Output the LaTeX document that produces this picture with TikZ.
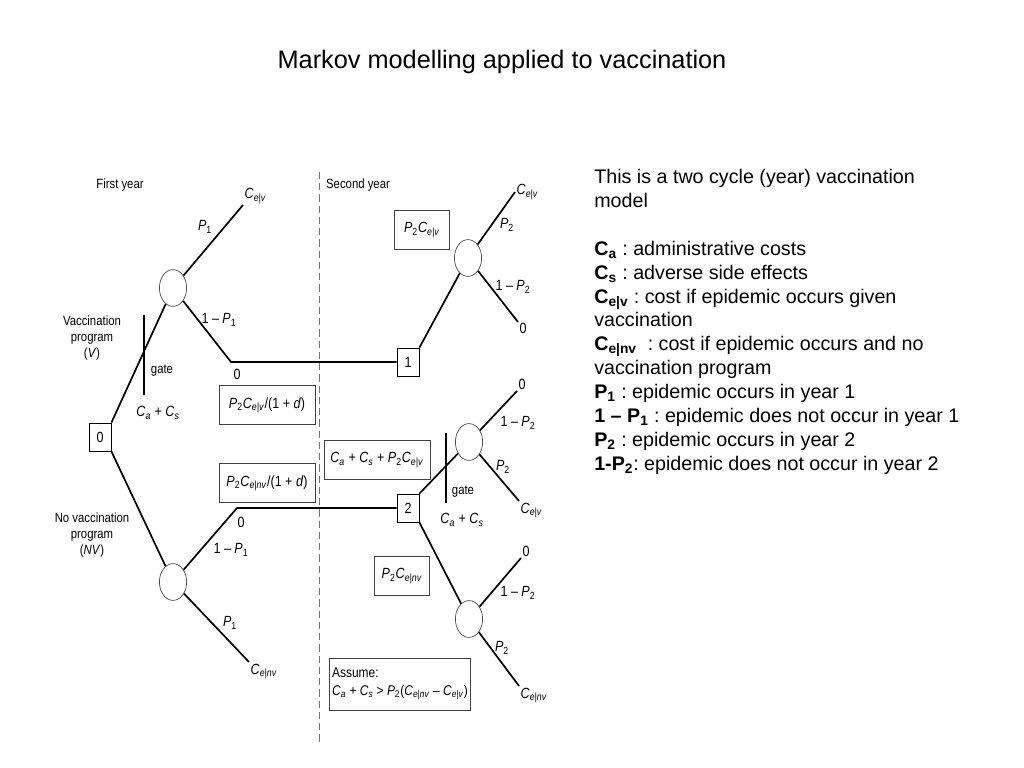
\documentclass[tikz,border=0pt]{standalone}
\usepackage{fontspec}
\setmainfont{Liberation Sans}
\newfontfamily\narrowsans[FakeStretch=0.85, Ligatures=TeX]{Liberation Sans}
\usetikzlibrary{shapes.geometric}
\newcommand{\Cx}[1]{\textit{C}\textsubscript{\textit{#1}}}
\newcommand{\Px}[1]{\textit{P}\textsubscript{#1}}
\newcommand{\lblfont}{\narrowsans\fontsize{9.5}{11.5}\selectfont}
\newcommand{\mlblfont}{\narrowsans\fontsize{10.5}{12.5}\selectfont}
\tikzset{
	treeline/.style={line width=1.2pt},
	yearline/.style={draw=black!55, line width=0.6pt, dash pattern=on 5pt off 3pt},
	decision/.style={draw, line width=0.6pt, minimum width=0.55cm, minimum height=0.7cm, inner sep=0pt, font=\mlblfont},
	chance/.style={ellipse, draw=black!70, line width=0.5pt, minimum width=0.68cm, minimum height=0.92cm, inner sep=0pt},
	valuebox/.style={draw=black!75, line width=0.6pt, minimum height=0.97cm, inner sep=2pt, font=\mlblfont},
	lbl/.style={inner sep=1pt, font=\lblfont},
	prob/.style={inner sep=1pt, font=\mlblfont},
}
\frenchspacing

\begin{document}
\begin{tikzpicture}[x=0.025cm, y=-0.025cm]
		\useasboundingbox (0,0) rectangle (1024,768);
		
		%%%%% TITLE %%%%%
		\node[font=\fontsize{18}{22}\selectfont] (ttl) at (502,62) {Markov modelling applied to vaccination};
		
		%%%%% YEARS %%%%%
		\node[lbl] (fy) at (120,185) {First year};
		\node[lbl] (sy) at (358,185) {Second year};
		\coordinate (ytop) at (319,172);
		\coordinate (ybot) at (319,745);
		\draw[yearline] (ytop) -- (ybot);
		
		%%%%% NODES %%%%%
		\node[decision] (s0) at (100,437) {0};
		\node[chance] (cV) at (173,288) {};
		\node[chance] (cNV) at (173,582) {};
		\node[decision] (s1) at (408,362) {1};
		\node[decision] (s2) at (408,508) {2};
		\node[chance] (cA) at (468,258) {};
		\node[chance] (cB) at (469,442) {};
		\node[chance] (cC) at (469,619) {};
		\coordinate (kV) at (231,362);
		\coordinate (kNV) at (237,508);
		
		%%%%% END VALUES %%%%%
		\node[prob, anchor=south west] (eV) at (243,205) {\Cx{e|v}};
		\node[prob, anchor=north west] (eNV) at (249,662) {\Cx{e|nv}};
		\node[prob, anchor=west] (eA1) at (515,192) {\Cx{e|v}};
		\node[prob, anchor=north west] (eA2) at (518,322) {0};
		\node[prob, anchor=south west] (eB1) at (517,391) {0};
		\node[prob, anchor=north west] (eB2) at (519,501) {\Cx{e|v}};
		\node[prob, anchor=south west] (eC1) at (521,558) {0};
		\node[prob, anchor=north west] (eC2) at (519,686) {\Cx{e|nv}};
		
		%%%%% BRANCHES %%%%%
		\draw[treeline] (s0.north east) -- (cV);
		\draw[treeline] (cV) -- (eV.south west);
		\draw[treeline] (cV) -- (kV) -- (s1.west);
		\draw[treeline] (s0.south east) -- (cNV);
		\draw[treeline] (cNV) -- (kNV) -- (s2.west);
		\draw[treeline] (cNV) -- (eNV.north west);
		\draw[treeline] (s1.north east) -- (cA);
		\draw[treeline] (cA) -- (eA1.west);
		\draw[treeline] (cA) -- (eA2.north west);
		\draw[treeline] (s2.north east) -- (cB);
		\draw[treeline] (cB) -- (eB1.south west);
		\draw[treeline] (cB) -- (eB2.north west);
		\draw[treeline] (s2.south east) -- (cC);
		\draw[treeline] (cC) -- (eC1.south west);
		\draw[treeline] (cC) -- (eC2.north west);
		
		%%%%% PROBABILITIES %%%%%
		\node[prob] (pV1) at (205,227) {\Px{1}};
		\node[prob] (pV2) at (219,320) {1 -- \Px{1}};
		\node[prob] (zV) at (237,374) {0};
		\node[prob] (pNV2) at (231,550) {1 -- \Px{1}};
		\node[prob] (zNV) at (241,522) {0};
		\node[prob] (pNV1) at (230,623) {\Px{1}};
		\node[prob] (pA1) at (507,225) {\Px{2}};
		\node[prob] (pA2) at (513,287) {1 -- \Px{2}};
		\node[prob] (pB2) at (518,423) {1 -- \Px{2}};
		\node[prob] (pB1) at (503,467) {\Px{2}};
		\node[prob] (pC2) at (518,593) {1 -- \Px{2}};
		\node[prob] (pC1) at (502,648) {\Px{2}};
		
		%%%%% GATES %%%%%
		\coordinate (gV1) at (144,315);
		\coordinate (gV2) at (144,395);
		\draw[treeline] (gV1) -- (gV2);
		\node[lbl] (gVt) at (162,371) {gate};
		\node[prob] (gVc) at (158,413) {\Cx{a} + \Cx{s}};
		\coordinate (gB1) at (446,433);
		\coordinate (gB2) at (446,503);
		\draw[treeline] (gB1) -- (gB2);
		\node[lbl] (gBt) at (463,492) {gate};
		\node[prob] (gBc) at (462,520) {\Cx{a} + \Cx{s}};
		
		%%%%% PROGRAMS %%%%%
		\node[lbl, align=center] (progV) at (92,338) {Vaccination\\program\\(\textit{V})};
		\node[lbl, align=center] (progNV) at (92,535) {No vaccination\\program\\(\textit{NV})};
		
		%%%%% VALUE BOXES %%%%%
		\node[valuebox, minimum width=2.4cm] (bV) at (267,405) {\Px{2}\Cx{e|v}/(1 + \textit{d})};
		\node[valuebox, minimum width=2.4cm] (bNV) at (267,483) {\Px{2}\Cx{e|nv}/(1 + \textit{d})};
		\node[valuebox, minimum width=1.375cm] (bA) at (422,230) {\Px{2}\Cx{e|v}};
		\node[valuebox, minimum width=2.65cm] (bB) at (377,460) {\Cx{a} + \Cx{s} + \Px{2}\Cx{e|v}};
		\node[valuebox, minimum width=1.375cm] (bC) at (402,576) {\Px{2}\Cx{e|nv}};
		\node[valuebox, align=left, minimum width=3.4cm, minimum height=1.3cm, font=\narrowsans\fontsize{10}{12.5}\selectfont] (assume) at (400,684) {Assume:\\\Cx{a} + \Cx{s} > \Px{2}(\Cx{e|nv} -- \Cx{e|v})};
		
		%%%%% LEGEND %%%%%
		\node[anchor=north west, align=left, inner sep=0pt, font=\fontsize{14}{17}\selectfont] (legend) at (594,169) {This is a two cycle (year) vaccination\\model\\[17pt]
			\textbf{C\textsubscript{a}} : administrative costs\\
			\textbf{C\textsubscript{s}} : adverse side effects\\
			\textbf{C\textsubscript{e|v}} : cost if epidemic occurs given\\vaccination\\
			\textbf{C\textsubscript{e|nv}} \ : cost if epidemic occurs and no\\vaccination program\\
			\textbf{P\textsubscript{1}} : epidemic occurs in year 1\\
			\textbf{1 -- P\textsubscript{1}} : epidemic does not occur in year 1\\
			\textbf{P\textsubscript{2}} : epidemic occurs in year 2\\
			\textbf{1-P\textsubscript{2}}: epidemic does not occur in year 2};
\end{tikzpicture}
\end{document}
